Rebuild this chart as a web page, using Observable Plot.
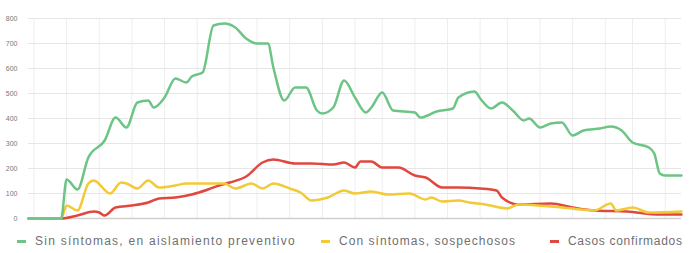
<!DOCTYPE html>
<html>
<head>
<meta charset="utf-8">
<script src="https://cdn.jsdelivr.net/npm/d3@7"></script>
<script src="https://cdn.jsdelivr.net/npm/@observablehq/plot@0.6"></script>
<style>
  html, body { margin: 0; padding: 0; background: #ffffff; }
  body { width: 689px; height: 253px; position: relative; overflow: hidden; font-family: "Liberation Sans", Arial, sans-serif; }
  #chart { position: absolute; left: 0; top: 0; }
  #legend { position: absolute; left: 0; top: 232px; width: 689px; height: 18px; }
  .item { position: absolute; top: 0; height: 18px; display: flex; align-items: center; white-space: nowrap; color: #707070; font-size: 12px; }
  .sw { display: inline-block; width: 9px; height: 3px; margin-right: 9px; }
</style>
</head>
<body>
<div id="chart"></div>
<div id="legend"></div>
<script>
const seriesNames = ["Sin síntomas, en aislamiento preventivo", "Con síntomas, sospechosos", "Casos confirmados"];
const seriesColors = ["#6cc485", "#f2c936", "#e0483f"];

const greenDays   = [0, 6, 7, 9, 11, 14, 16, 18, 20, 22, 23, 25, 27, 29, 30, 32, 34, 36, 38, 40, 42, 44, 45, 47, 49, 51, 53, 54, 56, 58, 60, 62, 63, 65, 67, 71, 72, 75, 78, 79, 82, 83, 85, 87, 89, 91, 92, 94, 96, 98, 100, 102, 105, 107, 109, 111, 114, 115, 116, 117, 120];
const greenValues = [0, 0, 156, 116, 244, 312, 404, 364, 464, 472, 444, 484, 560, 544, 568, 584, 772, 780, 764, 720, 700, 700, 604, 472, 524, 524, 432, 420, 444, 552, 484, 424, 444, 504, 432, 424, 404, 428, 440, 484, 508, 480, 440, 464, 432, 392, 400, 364, 380, 384, 332, 352, 360, 368, 352, 304, 284, 260, 180, 172, 172];

const yellowDays   = [0, 6, 7, 9, 11, 12, 15, 17, 18, 20, 22, 24, 27, 29, 33, 36, 38, 41, 43, 45, 48, 50, 52, 55, 58, 60, 63, 66, 70, 73, 74, 76, 79, 81, 84, 88, 90, 98, 104, 107, 108, 111, 114, 120];
const yellowValues = [0, 0, 52, 32, 140, 152, 100, 144, 140, 120, 152, 124, 132, 140, 140, 140, 120, 140, 120, 140, 120, 104, 72, 84, 112, 100, 108, 96, 100, 76, 84, 68, 72, 64, 56, 40, 56, 44, 32, 60, 32, 44, 24, 28];

const redDays   = [0, 6, 9, 12, 13, 14, 16, 19, 22, 24, 27, 30, 33, 35, 37, 40, 43, 45, 49, 52, 56, 58, 60, 61, 63, 65, 68, 71, 73, 76, 79, 83, 86, 87, 90, 96, 100, 104, 110, 116, 120];
const redValues = [0, 0, 12, 28, 24, 12, 44, 52, 64, 80, 84, 96, 116, 132, 144, 168, 224, 236, 220, 220, 216, 224, 204, 228, 228, 204, 204, 172, 164, 124, 124, 120, 112, 84, 56, 60, 44, 32, 28, 16, 16];

const yTicks = [0, 100, 200, 300, 400, 500, 600, 700, 800];
const gridDays = [1, 7, 13, 19, 25, 31, 37, 42, 48, 54, 60, 65, 71, 77, 83, 88, 94, 100, 106, 111, 117];

const rows = [];
const add = (name, days, values) => days.forEach((d, i) => rows.push({series: name, day: d, value: values[i]}));
add(seriesNames[2], redDays, redValues);
add(seriesNames[1], yellowDays, yellowValues);
add(seriesNames[0], greenDays, greenValues);

const chart = Plot.plot({
  width: 689,
  height: 228,
  marginLeft: 28,
  marginRight: 8,
  marginTop: 18,
  marginBottom: 10,
  style: {background: "transparent", fontFamily: "Liberation Sans, Arial, sans-serif"},
  x: {domain: [0, 120], axis: null},
  y: {domain: [0, 800], axis: null},
  color: {domain: seriesNames, range: seriesColors},
  marks: [
    Plot.ruleX(gridDays, {stroke: "#eeeeee", strokeWidth: 1}),
    Plot.gridY(yTicks, {stroke: "#e6e6e6", strokeOpacity: 1}),
    Plot.ruleY([0], {stroke: "#cfcfcf", strokeWidth: 1.5}),
    Plot.axisY(yTicks, {tickSize: 0, tickPadding: 11, fontSize: 7, fill: "#777", textAnchor: "end", label: null}),
    Plot.line(rows, {x: "day", y: "value", z: "series", stroke: "series", curve: "monotone-x", strokeWidth: 2.5, strokeLinejoin: "round"})
  ]
});
document.getElementById("chart").appendChild(chart);

const legendLeft = [17, 321, 550];
const legendSpacing = [1.25, 1.05, 0.7];
const legend = document.getElementById("legend");
seriesNames.forEach((name, i) => {
  const item = document.createElement("div");
  item.className = "item";
  item.style.left = legendLeft[i] + "px";
  item.style.letterSpacing = legendSpacing[i] + "px";
  const sw = document.createElement("span");
  sw.className = "sw";
  sw.style.background = seriesColors[i];
  item.appendChild(sw);
  item.appendChild(document.createTextNode(name));
  legend.appendChild(item);
});
</script>
</body>
</html>
